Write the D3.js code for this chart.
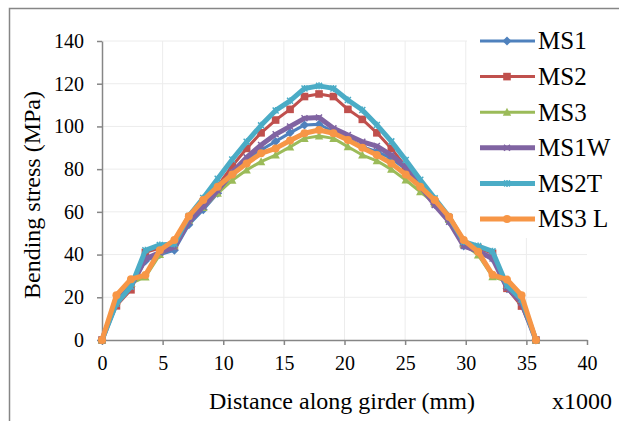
<!DOCTYPE html>
<html>
<head>
<meta charset="utf-8">
<script src="https://cdn.jsdelivr.net/npm/d3@7"></script>
<style>
  body { margin: 0; background: #fff; }
  text { font-family: "Liberation Serif", "Times New Roman", serif; fill: #000; }
  .grid line { stroke: #ececec; stroke-width: 1; }
  .axis path, .axis line { stroke: #868686; stroke-width: 1.5; }
</style>
</head>
<body>
<div id="chart"></div>
<script>
// distance along girder (x1000 mm)
var distance = [0, 1.19, 2.39, 3.58, 4.77, 5.97, 7.16, 8.35, 9.54, 10.74, 11.93, 13.12, 14.32, 15.51, 16.70,
  17.90, 19.09, 20.28, 21.47, 22.67, 23.86, 25.05, 26.25, 27.44, 28.63, 29.83, 31.02, 32.21, 33.40, 34.60, 35.79];

var seriesNames = ['MS1', 'MS2', 'MS3', 'MS1W', 'MS2T', 'MS3 L'];

// bending stress (MPa)
var ms1 = [0, 18, 25, 37, 40, 42, 54, 61, 68.7, 77.5, 84, 89, 93, 97, 100.7,
  101, 97.5, 94.4, 90.5, 88.2, 85, 80, 71.5, 63.5, 55.4, 44, 41, 38, 24, 17, 0];
var ms2 = [0, 16, 23.5, 41, 43, 44.5, 57, 64.5, 72, 81.5, 89.7, 97, 103, 108, 114,
  115.2, 114, 108, 103.3, 97, 89.7, 81.1, 72, 64.5, 57, 45, 43, 40.6, 24.2, 15.9, 0];
var ms3 = [0, 18, 26.5, 29.5, 40, 44, 56, 62, 68.7, 74.8, 79.6, 83.5, 86.6, 90.4, 94.4,
  95.5, 94.4, 90.5, 86.6, 83.9, 79.9, 74.9, 69.4, 64, 56.5, 45, 39.8, 29.6, 27.5, 19, 0];
var ms1w = [0, 18, 25, 38, 41, 43.5, 55.5, 62.4, 70, 78.5, 85.5, 91.3, 96.3, 100, 103.8,
  104.2, 99.1, 96, 92.8, 90.8, 86.6, 81, 72, 63.2, 55.4, 44, 41.5, 38.2, 24.5, 17.5, 0];
var ms2t = [0, 17, 25, 42, 44.5, 45, 58, 66.5, 75.5, 84.5, 92.8, 100.5, 107.5, 112, 117.8,
  119, 117.8, 112.4, 107.7, 100.7, 93, 84.3, 75, 66.3, 57.7, 46, 44, 41.5, 25.5, 19, 0];
var ms3l = [0, 21, 28.5, 30.4, 42, 46.8, 58, 65.5, 71.8, 77.5, 82.7, 87.4, 89.7, 93.4, 96.8,
  98.3, 96.8, 93.6, 90, 86.6, 82.7, 77.5, 71.8, 65.5, 57.7, 46.8, 41.3, 30.5, 28.3, 21, 0];

var xTicks = [0, 5, 10, 15, 20, 25, 30, 35, 40];
var yTicks = [0, 20, 40, 60, 80, 100, 120, 140];

var width = 619;
var height = 421;

// line styles per series (same order as seriesNames)
var styles = [
  { color: '#4f81bd', width: 3, marker: 'diamond' },
  { color: '#c0504d', width: 3, marker: 'square' },
  { color: '#9bbb59', width: 3, marker: 'triangle' },
  { color: '#8064a2', width: 5, marker: 'x' },
  { color: '#4bacc6', width: 5, marker: 'star' },
  { color: '#f79646', width: 5, marker: 'circle' }
];

var seriesValues = [ms1, ms2, ms3, ms1w, ms2t, ms3l];
var series = seriesNames.map(function(name, k) {
  return {
    name: name,
    style: styles[k],
    points: distance.map(function(d, i) { return { x: d, y: seriesValues[k][i] }; })
  };
});

var svg = d3.select('#chart')
  .append('svg')
  .attr('width', width)
  .attr('height', height);

// chart frame (cropped)
svg.append('path')
  .attr('d', 'M9.5,421V8.5H619')
  .attr('fill', 'none')
  .attr('stroke', '#868686')
  .attr('stroke-width', 1.5);

var x = d3.scaleLinear().domain([0, 40]).range([102, 587]);
var y = d3.scaleLinear().domain([0, 140]).range([340, 41]);

// gridlines
var grid = svg.append('g').attr('class', 'grid');
grid.selectAll('.h')
  .data(yTicks.slice(1))
  .enter()
  .append('line')
  .attr('x1', x(0)).attr('x2', x(40))
  .attr('y1', function(d) { return y(d); })
  .attr('y2', function(d) { return y(d); });
grid.selectAll('.v')
  .data(xTicks.slice(1, -1))
  .enter()
  .append('line')
  .attr('y1', y(0)).attr('y2', y(140))
  .attr('x1', function(d) { return x(d); })
  .attr('x2', function(d) { return x(d); });

// legend background hides the gridlines behind it
svg.append('rect')
  .attr('x', 467)
  .attr('y', 20)
  .attr('width', 152)
  .attr('height', 218)
  .attr('fill', '#fff');

// axes
var xAxis = svg.append('g')
  .attr('class', 'axis')
  .attr('transform', 'translate(0,' + y(0) + ')')
  .call(d3.axisBottom(x).tickValues(xTicks).tickSizeInner(5).tickSizeOuter(0).tickPadding(8));
xAxis.selectAll('text').attr('font-size', 20).attr('fill', '#000').attr('dy', '0.85em');

var yAxis = svg.append('g')
  .attr('class', 'axis')
  .attr('transform', 'translate(' + x(0) + ',0)')
  .call(d3.axisLeft(y).tickValues(yTicks).tickSizeInner(5).tickSizeOuter(0).tickPadding(13));
yAxis.selectAll('text').attr('font-size', 20).attr('fill', '#000');
svg.selectAll('.axis text').style('font-family', '"Liberation Serif", "Times New Roman", serif');

// axis titles
svg.append('text')
  .attr('x', 342)
  .attr('y', 409)
  .attr('text-anchor', 'middle')
  .attr('font-size', 24)
  .text('Distance along girder (mm)');

svg.append('text')
  .attr('x', 612)
  .attr('y', 409)
  .attr('text-anchor', 'end')
  .attr('font-size', 24)
  .text('x1000');

svg.append('text')
  .attr('transform', 'translate(39.5,195) rotate(-90)')
  .attr('text-anchor', 'middle')
  .attr('font-size', 24)
  .text('Bending stress (MPa)');

// marker drawing
function drawMarker(g, type, color) {
  if (type === 'diamond') {
    g.append('path').attr('d', 'M0,-4.5L4.5,0L0,4.5L-4.5,0Z').attr('fill', color);
  } else if (type === 'square') {
    g.append('rect').attr('x', -3.8).attr('y', -3.8).attr('width', 7.6).attr('height', 7.6).attr('fill', color);
  } else if (type === 'triangle') {
    g.append('path').attr('d', 'M0,-4.5L4.2,3.5L-4.2,3.5Z').attr('fill', color);
  } else if (type === 'x') {
    g.append('path').attr('d', 'M-3,-3L3,3M-3,3L3,-3').attr('stroke', color).attr('stroke-width', 1.5);
  } else if (type === 'star') {
    g.append('path').attr('d', 'M-3,-3L3,3M-3,3L3,-3M0,-3.5L0,3.5').attr('stroke', color).attr('stroke-width', 1.5);
  } else {
    g.append('circle').attr('r', 4).attr('fill', color);
  }
}

var line = d3.line()
  .x(function(d) { return x(d.x); })
  .y(function(d) { return y(d.y); });

var lines = svg.selectAll('.series')
  .data(series)
  .enter()
  .append('g')
  .attr('class', 'series');

lines.append('path')
  .attr('d', function(d) { return line(d.points); })
  .attr('fill', 'none')
  .attr('stroke', function(d) { return d.style.color; })
  .attr('stroke-width', function(d) { return d.style.width; })
  .attr('stroke-linejoin', 'round');

lines.each(function(s) {
  var g = d3.select(this);
  s.points.forEach(function(p) {
    var m = g.append('g').attr('transform', 'translate(' + x(p.x) + ',' + y(p.y) + ')');
    drawMarker(m, s.style.marker, s.style.color);
  });
});

// legend
var legend = svg.selectAll('.legend')
  .data(series)
  .enter()
  .append('g')
  .attr('class', 'legend')
  .attr('transform', function(d, i) { return 'translate(0,' + (41 + i * 35.6) + ')'; });

legend.append('line')
  .attr('x1', 480).attr('x2', 535)
  .attr('stroke', function(d) { return d.style.color; })
  .attr('stroke-width', function(d) { return d.style.width; });

legend.each(function(s) {
  var m = d3.select(this).append('g').attr('transform', 'translate(507,0)');
  drawMarker(m, s.style.marker, s.style.color);
});

legend.append('text')
  .attr('x', 538)
  .attr('y', 8.3)
  .attr('font-size', 25)
  .text(function(d) { return d.name; });
</script>
</body>
</html>
